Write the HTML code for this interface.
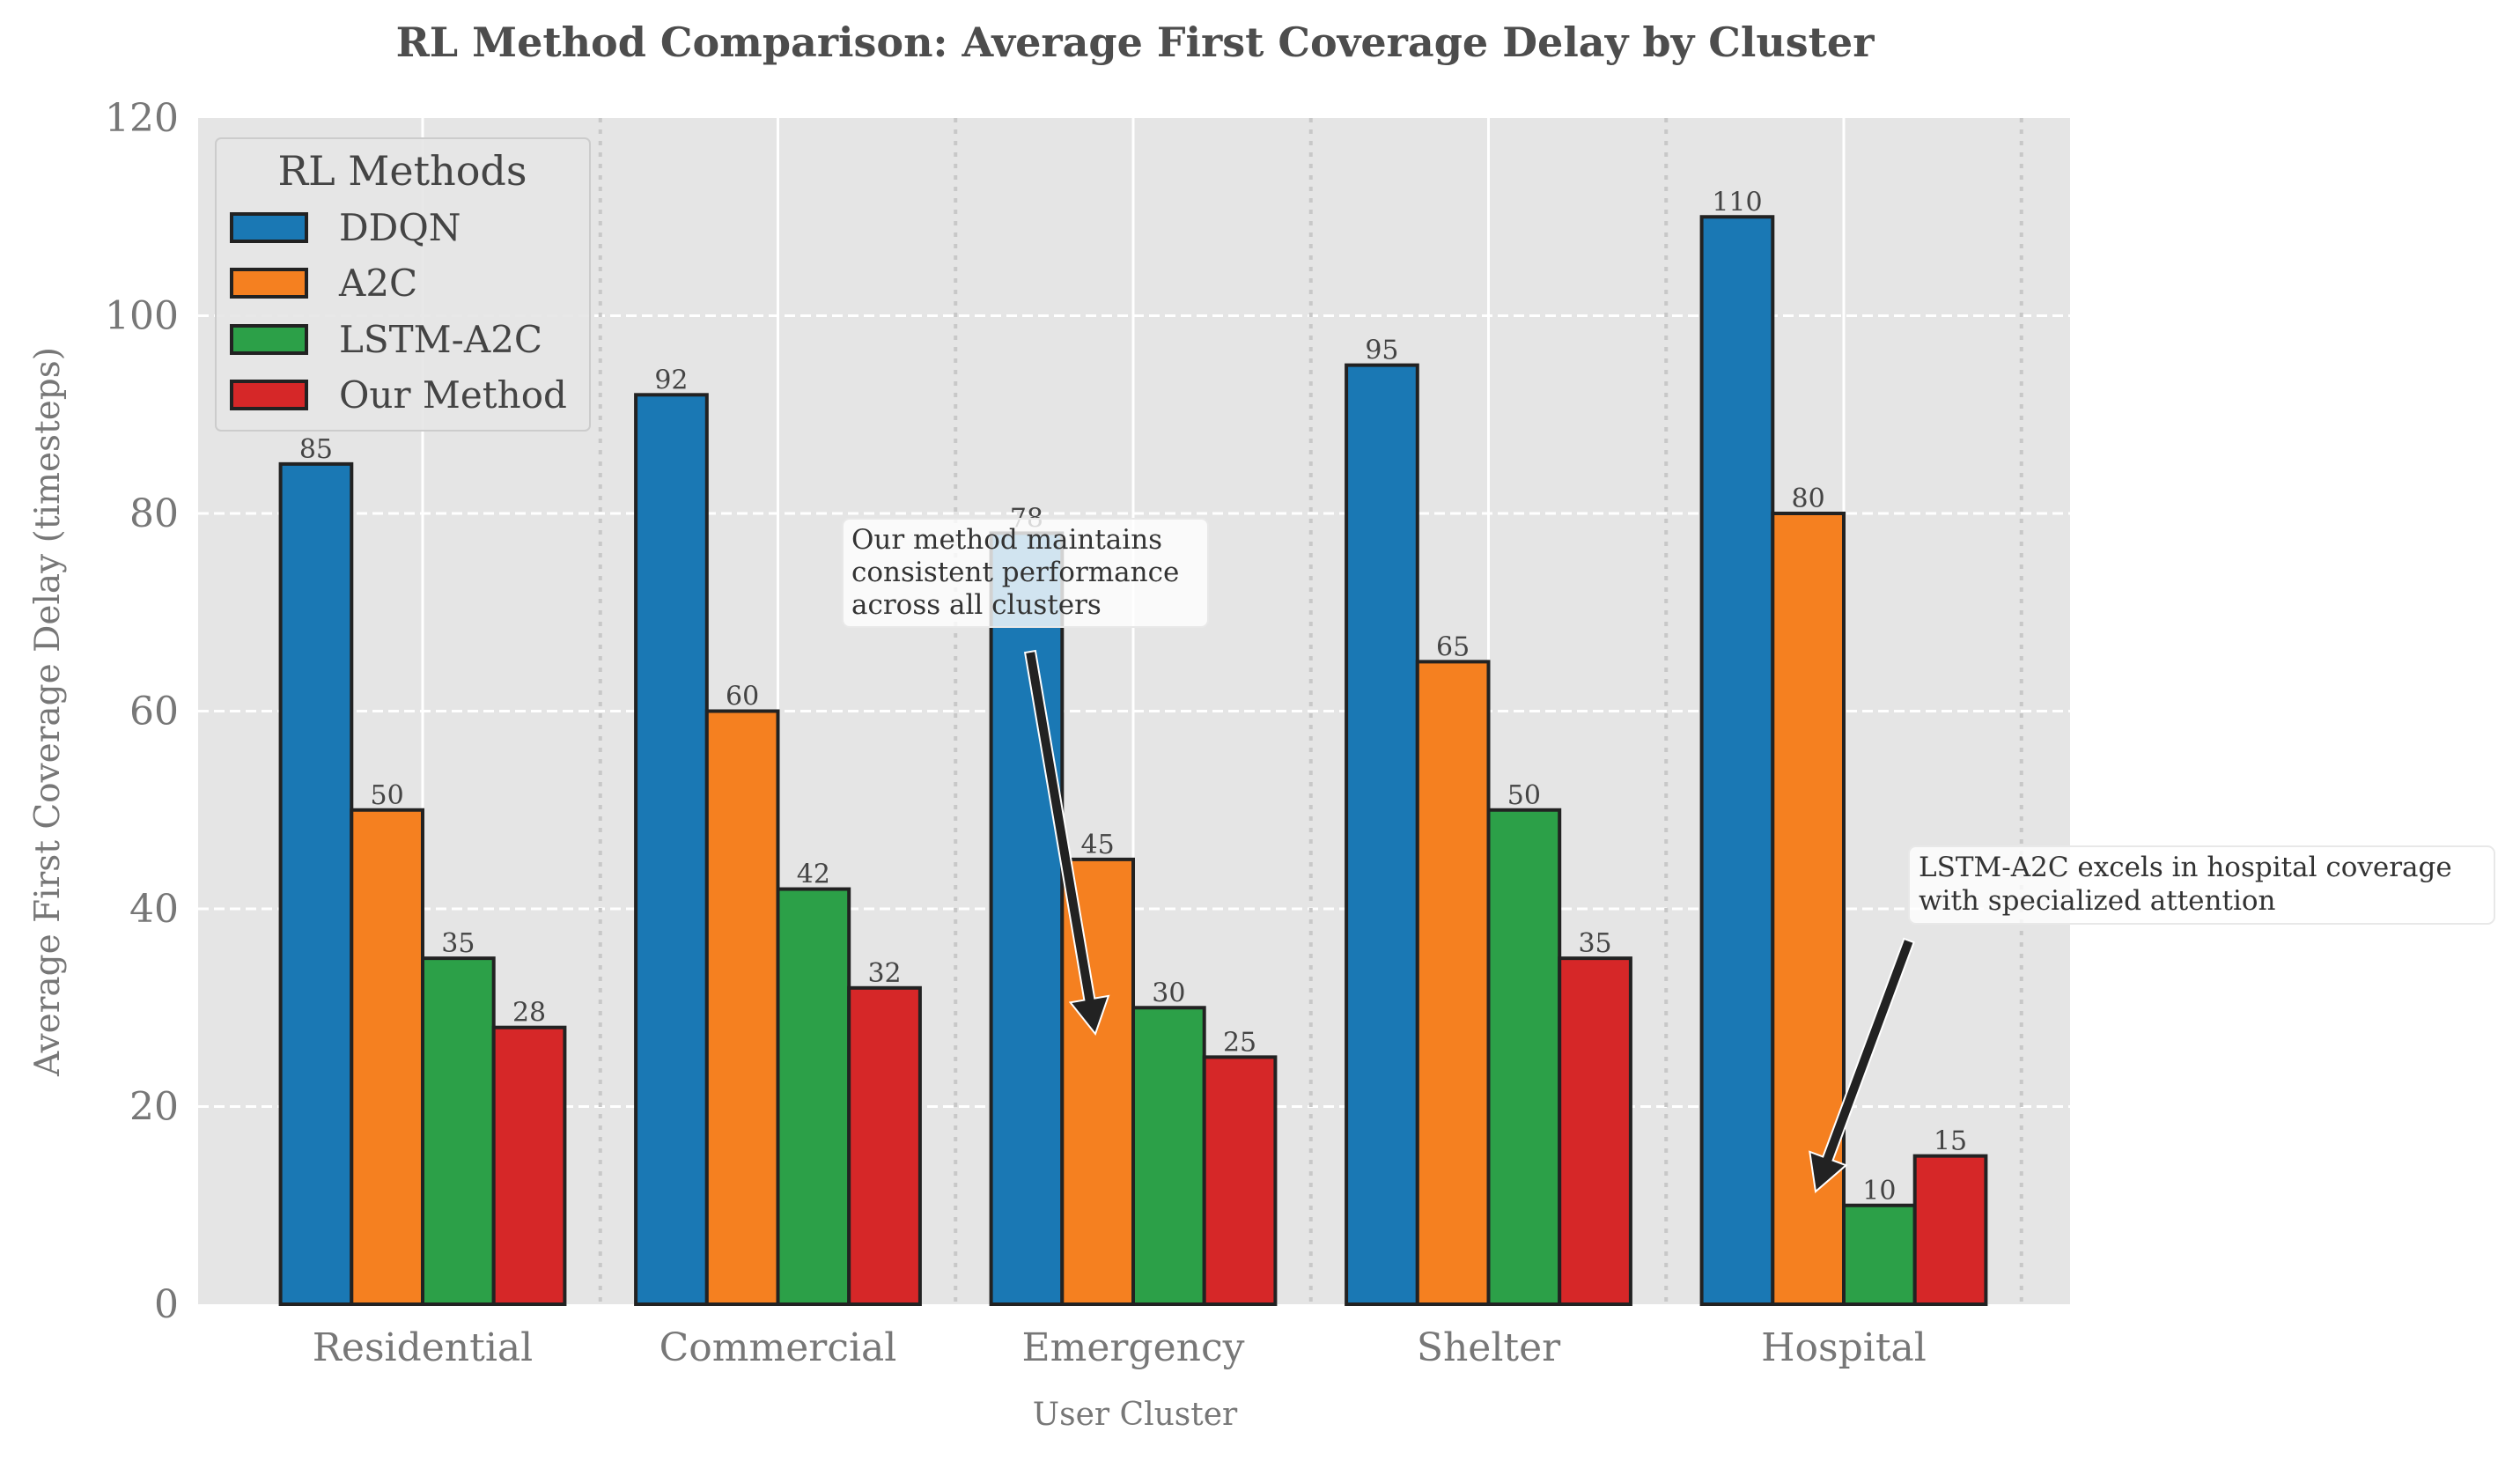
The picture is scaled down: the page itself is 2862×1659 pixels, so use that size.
<!DOCTYPE html>
<html><head><meta charset="utf-8"><style>
html,body{margin:0;padding:0;background:#fff;}
svg{display:block;font-family:"DejaVu Serif","Liberation Serif",serif;}
</style></head><body>
<svg id="chart" width="2862" height="1659" viewBox="0 0 2862 1659" xmlns="http://www.w3.org/2000/svg"></svg>
<script>
const categories = ["Residential","Commercial","Emergency","Shelter","Hospital"];
const seriesNames = ["DDQN","A2C","LSTM-A2C","Our Method"];
const ddqn = [85,92,78,95,110];
const a2c = [50,60,45,65,80];
const lstmA2c = [35,42,30,50,10];
const ourMethod = [28,32,25,35,15];
const yTicks = [0,20,40,60,80,100,120];
const series = [ddqn,a2c,lstmA2c,ourMethod];
const colors = ["#1a78b4","#f58020","#2ca048","#d62728"];

const NS="http://www.w3.org/2000/svg";
const svg=document.getElementById('chart');
const L=225,R=2351,T=134,B=1481;
const x0=480, step=403.5;
function xs(v){return x0+v*step;}
function ys(v){return B-(v/120)*(B-T);}
function el(tag,attrs,parent){const e=document.createElementNS(NS,tag);for(const k in attrs)e.setAttribute(k,attrs[k]);(parent||svg).appendChild(e);return e;}

const bg=el('rect',{x:L,y:T,width:R-L,height:B-T,fill:'#e5e5e5'});



yTicks.forEach(t=>{
  if(t>0&&t<120){const g=el('line',{x1:L,x2:R,y1:ys(t),y2:ys(t),stroke:'#fff','stroke-width':3,'stroke-dasharray':'12,6'});
  
  }
  const tx=el('text',{x:L-22,y:ys(t)+15,'text-anchor':'end','font-size':44,fill:'#777'});
  tx.textContent=t;
  
  
});
categories.forEach((c,i)=>{
  const g=el('line',{x1:xs(i),x2:xs(i),y1:T,y2:B,stroke:'#fff','stroke-width':3});
  
  
  const s=el('line',{x1:xs(i+0.5),x2:xs(i+0.5),y1:T,y2:B,stroke:'#c8c8c8','stroke-width':4,'stroke-dasharray':'5,8'});
  
  
  const tx=el('text',{x:xs(i),y:1545,'text-anchor':'middle','font-size':44,fill:'#777'});
  tx.textContent=c;
  
  
});

const bw=0.2*step;
series.forEach((arr,s)=>{
  arr.forEach((v,i)=>{
    const cx=xs(i)+(s-1.5)*bw;
    const r=el('rect',{x:cx-bw/2,y:ys(v),width:bw,height:B-ys(v),fill:colors[s],stroke:'#222','stroke-width':4});
    
    
    const t=el('text',{x:cx,y:ys(v)-7,'text-anchor':'middle','font-size':30,fill:'#444'});
    t.textContent=v;
    
    
  });
});

const lg=el('g',{});


el('rect',{x:245,y:157,width:425,height:332,rx:6,fill:'#e5e5e5','fill-opacity':0.9,stroke:'#cccccc','stroke-width':2},lg);
const lt=el('text',{x:457,y:210,'text-anchor':'middle','font-size':46,fill:'#444'},lg);
lt.textContent='RL Methods';


const ly=[258,321,385,448];
seriesNames.forEach((n,s)=>{
  const e=el('g',{},lg);
  
  
  el('rect',{x:263,y:ly[s]-15,width:85,height:31,fill:colors[s],stroke:'#222','stroke-width':4},e);
  const t=el('text',{x:385,y:ly[s]+15,'font-size':42,fill:'#444'},e);
  t.textContent=n;
});

function annot(name,bx,by,bwid,bh,lines,tx,ty0,lh,ax1,ay1,ax2,ay2){
  const g=el('g',{});
  
  
  el('rect',{x:bx,y:by,width:bwid,height:bh,rx:8,fill:'#fff','fill-opacity':0.8,stroke:'#e8e8e8','stroke-width':2},g);
  lines.forEach((ln,k)=>{const t=el('text',{x:tx,y:ty0+k*lh,'font-size':31,fill:'#333'},g);t.textContent=ln;});
  const dx=ax2-ax1,dy=ay2-ay1,len=Math.hypot(dx,dy),ux=dx/len,uy=dy/len,px=-uy,py=ux;
  const hl=40,hw=22,sw=6;
  const bxp=ax2-ux*hl,byp=ay2-uy*hl;
  const pts=[[ax1+px*sw,ay1+py*sw],[bxp+px*sw,byp+py*sw],[bxp+px*hw,byp+py*hw],[ax2,ay2],[bxp-px*hw,byp-py*hw],[bxp-px*sw,byp-py*sw],[ax1-px*sw,ay1-py*sw]];
  el('polygon',{points:pts.map(p=>p.join(',')).join(' '),fill:'#222',stroke:'#fff','stroke-width':2},g);
}
annot('annotation-our-method',957,589,415,123,["Our method maintains","consistent performance","across all clusters"],967,623,37,1170,740,1244,1174);
annot('annotation-lstm-a2c',2168,961,665,88,["LSTM-A2C excels in hospital coverage","with specialized attention"],2179,995,38,2168,1068,2062,1353);

const title=el('text',{x:1289,y:64,'text-anchor':'middle','font-size':46,'font-weight':'bold',fill:'#4d4d4d'});
title.textContent='RL Method Comparison: Average First Coverage Delay by Cluster';


const xl=el('text',{x:1289,y:1618,'text-anchor':'middle','font-size':36,fill:'#777'});
xl.textContent='User Cluster';


const yl=el('text',{x:0,y:0,'text-anchor':'middle','font-size':39,fill:'#777',transform:'translate(67,808) rotate(-90)'});
yl.textContent='Average First Coverage Delay (timesteps)';


</script>
</body></html>
